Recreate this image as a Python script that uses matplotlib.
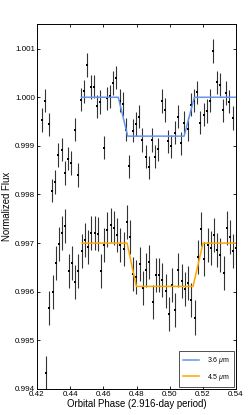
import matplotlib
matplotlib.use("Agg")
import matplotlib.pyplot as plt
import numpy as np

plt.rcParams['font.family'] = ['Liberation Sans', 'DejaVu Sans']
plt.rcParams['mathtext.fontset'] = 'custom'
plt.rcParams['mathtext.it'] = 'Liberation Sans:italic'
plt.rcParams['mathtext.rm'] = 'Liberation Sans'

# 3.6 micron binned light curve
phase_36 = [0.4230, 0.4250, 0.4270, 0.4290, 0.4309, 0.4329, 0.4349, 0.4367, 0.4387, 0.4407,
            0.4427, 0.4445, 0.4465, 0.4485, 0.4503, 0.4524, 0.4544, 0.4564, 0.4582, 0.4602,
            0.4620, 0.4640, 0.4660, 0.4678, 0.4699, 0.4719, 0.4737, 0.4757, 0.4777, 0.4797,
            0.4815, 0.4835, 0.4856, 0.4874, 0.4894, 0.4914, 0.4932, 0.4954, 0.4972, 0.4992,
            0.5010, 0.5030, 0.5049, 0.5069, 0.5089, 0.5109, 0.5127, 0.5147, 0.5167, 0.5185,
            0.5205, 0.5225, 0.5243, 0.5263, 0.5284, 0.5302, 0.5322, 0.5342, 0.5360, 0.5380]
flux_36 = [0.99953, 0.99993, 0.99944, 0.99808, 0.99826, 0.99881, 0.99892, 0.99844, 0.99874, 0.99865,
           0.99933, 0.99840, 0.99995, 1.00012, 1.00066, 1.00021, 1.00022, 0.99981, 0.99990, 0.99896,
           0.99998, 1.00002, 1.00029, 1.00040, 0.99993, 0.99986, 0.99933, 0.99858, 0.99931, 0.99945,
           0.99960, 0.99912, 0.99878, 0.99856, 0.99912, 0.99878, 0.99893, 0.99992, 0.99974, 0.99909,
           0.99899, 0.99927, 0.99960, 0.99905, 0.99948, 0.99935, 0.99985, 0.99993, 1.00010, 0.99948,
           0.99964, 0.99972, 0.99993, 1.00095, 1.00031, 1.00026, 0.99973, 1.00009, 0.99991, 0.99957]
err_36 = 0.00024

# 4.5 micron binned light curve
phase_45 = [0.4254, 0.4274, 0.4295, 0.4313, 0.4333, 0.4353, 0.4371, 0.4391, 0.4411, 0.4431,
            0.4449, 0.4470, 0.4490, 0.4508, 0.4528, 0.4548, 0.4566, 0.4586, 0.4606, 0.4624,
            0.4644, 0.4663, 0.4683, 0.4702, 0.4723, 0.4741, 0.4761, 0.4781, 0.4799, 0.4819,
            0.4839, 0.4859, 0.4877, 0.4898, 0.4918, 0.4936, 0.4956, 0.4976, 0.4994, 0.5014,
            0.5034, 0.5052, 0.5073, 0.5093, 0.5111, 0.5131, 0.5151, 0.5171, 0.5189, 0.5209,
            0.5230, 0.5248, 0.5268, 0.5288, 0.5306, 0.5327, 0.5346, 0.5364, 0.5384, 0.5400]
flux_45 = [0.99432, 0.99566, 0.99600, 0.99660, 0.99699, 0.99721, 0.99735, 0.99642, 0.99660, 0.99620,
           0.99642, 0.99684, 0.99707, 0.99693, 0.99721, 0.99720, 0.99719, 0.99642, 0.99697, 0.99728,
           0.99738, 0.99732, 0.99716, 0.99697, 0.99688, 0.99743, 0.99713, 0.99636, 0.99631, 0.99658,
           0.99607, 0.99645, 0.99661, 0.99578, 0.99635, 0.99635, 0.99625, 0.99602, 0.99555, 0.99613,
           0.99562, 0.99645, 0.99622, 0.99606, 0.99618, 0.99583, 0.99547, 0.99671, 0.99730, 0.99667,
           0.99697, 0.99690, 0.99717, 0.99686, 0.99676, 0.99638, 0.99732, 0.99712, 0.99684, 0.99689]
err_45 = 0.00035

# Transit models (trapezoid contact points)
model_phase_36 = [0.4468, 0.4690, 0.4747, 0.5087, 0.5149, 0.5396]
model_flux_36 = [1.0000, 1.0000, 0.99920, 0.99920, 1.0000, 1.0000]
model_phase_45 = [0.4473, 0.4743, 0.4799, 0.5141, 0.5201, 0.5396]
model_flux_45 = [0.99700, 0.99700, 0.99611, 0.99611, 0.99700, 0.99700]

fig = plt.figure(figsize=(2.49, 4.15), dpi=100)
ax = fig.add_axes([0.1486, 0.0627, 0.7992, 0.8787])

for ph, fl, er in [(phase_36, flux_36, err_36), (phase_45, flux_45, err_45)]:
    line, caps, bars = ax.errorbar(ph, fl, yerr=er, fmt='s', color='k', ms=2.0, mew=0,
                                   ecolor='#333333', elinewidth=0.8, capsize=1.4,
                                   capthick=0.7, zorder=2)
    for c in caps:
        c.set_color('#8a8a8a')

ax.plot(model_phase_36, model_flux_36, color='cornflowerblue', lw=1.1, label=r'3.6 $\mu$m', zorder=3)
ax.plot(model_phase_45, model_flux_45, color='orange', lw=1.1, label=r'4.5 $\mu$m', zorder=3)

ax.set_xlim(0.42, 0.54)
ax.set_ylim(0.994, 1.0015)
ax.set_xticks(np.arange(0.42, 0.5401, 0.02))
ax.set_xticklabels(['0.42', '0.44', '0.46', '0.48', '0.50', '0.52', '0.54'])
ax.set_yticks([0.994, 0.995, 0.996, 0.997, 0.998, 0.999, 1.000, 1.001])
ax.set_yticklabels(['0.994', '0.995', '0.996', '0.997', '0.998', '0.999', '1.000', '1.001'])
ax.tick_params(direction='in', top=True, right=True, length=2.5, width=0.6,
               labelsize=5.8, pad=1.5)
for s in ax.spines.values():
    s.set_linewidth(0.7)

ax.set_xlabel('Orbital Phase (2.916-day period)', fontsize=6.9, labelpad=1)
ax.set_ylabel('Normalized Flux', fontsize=6.9, labelpad=2)

leg = ax.legend(loc='lower right', fontsize=5.0, frameon=True, fancybox=False,
                edgecolor='k', handlelength=2.2, borderpad=0.6, labelspacing=0.8,
                handletextpad=1.2, borderaxespad=0.3)
leg.get_frame().set_linewidth(0.6)

fig.savefig('out.png', dpi=100)
